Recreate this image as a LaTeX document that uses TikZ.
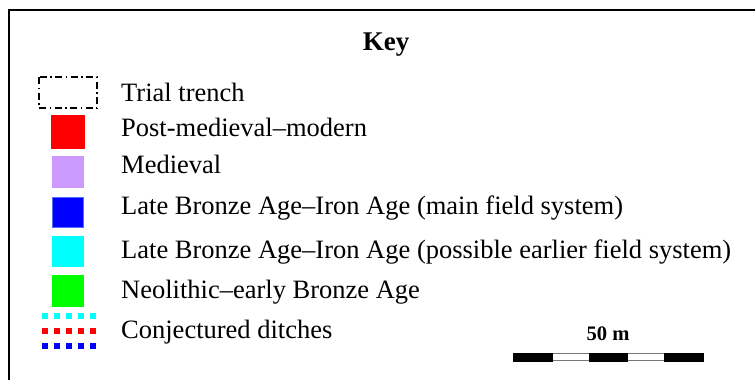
\documentclass[tikz,border=0pt]{standalone}
\usepackage{fontspec}
\setmainfont{Liberation Serif}
\definecolor{medpurple}{RGB}{204,153,255}
\definecolor{blueedge}{RGB}{80,110,255}
\definecolor{barframe}{RGB}{120,120,120}
\definecolor{purecyan}{RGB}{0,255,255}
\definecolor{pureblue}{RGB}{0,0,255}
\definecolor{purered}{RGB}{255,0,0}
\definecolor{puregreen}{RGB}{0,255,0}
\begin{document}
\begin{tikzpicture}[x=1pt,y=-1pt,
  keytext/.style={anchor=base west,inner sep=0pt,font=\fontsize{26.5}{31}\selectfont},
  dotline/.style={line width=6pt,dash pattern=on 6pt off 6pt},
  barblack/.style={fill=black,draw=black,line width=0.6pt},
  barwhite/.style={fill=white,draw=barframe,line width=0.8pt}]
\useasboundingbox (0,0) rectangle (755,380);
% frame
\draw[line width=2pt] (9,381) -- (9,10) -- (756,10);
% title
\node[anchor=base,inner sep=0pt,font=\fontsize{27}{31}\selectfont\bfseries] (key) at (386,50) {Key};
% trial trench
\draw[line width=1.6pt,dash pattern=on 7pt off 3.5pt on 1.5pt off 3.5pt] (39,77) rectangle (97,108);
\node[keytext] (t1) at (121,101.7) {Trial trench};
% swatches
\fill[purered] (51,115) rectangle (85,149);
\node[keytext] (t2) at (121,136.7) {Post-medieval–modern};
\fill[medpurple] (52,156) rectangle (84,188);
\node[keytext] (t3) at (121,173) {Medieval};
\filldraw[fill=pureblue,draw=blueedge,line width=1pt] (52.5,197.5) rectangle (83.5,227);
\node[keytext] (t4) at (121,214.3) {Late Bronze Age–Iron Age (main field system)};
\fill[purecyan] (52,236) rectangle (84,267);
\node[keytext] (t5) at (121,258.3) {Late Bronze Age–Iron Age (possible earlier field system)};
\fill[puregreen] (52,275) rectangle (84,307);
\node[keytext] (t6) at (121,298.3) {Neolithic–early Bronze Age};
% conjectured ditches
\draw[dotline,purecyan] (42,315.5) -- (96.5,315.5);
\draw[dotline,purered] (42,331.2) -- (96.5,331.2);
\draw[dotline,pureblue] (42,346.3) -- (96.5,346.3);
\node[keytext] (t7) at (121,338.3) {Conjectured ditches};
% scale bar
\node[anchor=base,inner sep=0pt,font=\fontsize{20.6}{24}\selectfont\bfseries] (scl) at (608,340) {50 m};
\draw[barwhite] (552,353.5) rectangle (589,360.5);
\draw[barwhite] (627,353.5) rectangle (664,360.5);
\draw[barblack] (513,353) rectangle (552,361);
\draw[barblack] (589,353) rectangle (627,361);
\draw[barblack] (664,353) rectangle (703,361);
\end{tikzpicture}
\end{document}
